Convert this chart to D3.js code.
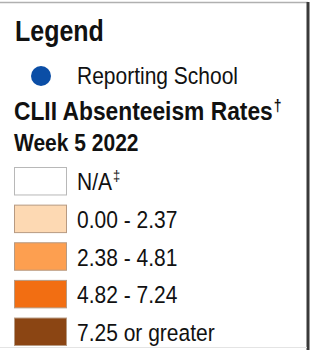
<!DOCTYPE html>
<html>
<head>
<meta charset="utf-8">
<script src="https://cdn.jsdelivr.net/npm/d3@7"></script>
<style>
  body { margin: 0; background: #fff; }
  text { font-family: "Liberation Sans", Arial, sans-serif; fill: #111; }
</style>
</head>
<body>
<div id="chart"></div>
<script>
// legend content
var title = "Legend";
var pointLabel = "Reporting School";
var rateTitle = "CLII Absenteeism Rates";
var weekLabel = "Week 5 2022";
var binLabels = ["N/A", "0.00 - 2.37", "2.38 - 4.81", "4.82 - 7.24", "7.25 or greater"];
var binMarks = ["\u2021", "", "", "", ""];
var binColors = ["#ffffff", "#fdd9b3", "#fd9f50", "#f26e12", "#8b4513"];

var w = 310, h = 350;
var stretch = 1.17; // the source text is a bit taller than plain Arial

var svg = d3.select("#chart")
    .append("svg")
    .attr("width", w)
    .attr("height", h);

// frame
svg.append("line")
    .attr("x1", 0).attr("x2", 308).attr("y1", 2.5).attr("y2", 2.5)
    .style("stroke", "#b0b0b0").style("stroke-width", 1.5);
svg.append("line")
    .attr("x1", 308).attr("x2", 308).attr("y1", 2).attr("y2", 350)
    .style("stroke", "#3a3a3a").style("stroke-width", 3);
svg.append("line")
    .attr("x1", 0).attr("x2", 307).attr("y1", 347.5).attr("y2", 347.5)
    .style("stroke", "#e4e4e4").style("stroke-width", 1);

function label(parent, x, y, size, bold, str) {
    return parent.append("text")
        .attr("transform", "translate(" + x + "," + y + ") scale(1," + stretch + ")")
        .style("font-size", size + "px")
        .style("font-weight", bold ? "bold" : "normal")
        .text(str);
}

label(svg, 15, 41, 25, true, title);

// reporting school marker
svg.append("circle")
    .attr("cx", 41).attr("cy", 76).attr("r", 10)
    .style("fill", "#0b4ea6");
label(svg, 77, 84, 21, false, pointLabel);

label(svg, 14, 120, 22.8, true, rateTitle)
    .append("tspan")
    .attr("dx", 1).attr("dy", -8).style("font-size", "14px")
    .text("\u2020");

label(svg, 14, 151, 21, true, weekLabel);

// legend rows
var y = d3.scaleBand()
    .domain(binLabels)
    .range([167, 167 + 35.6 * binLabels.length])
    .paddingInner(0.27)
    .paddingOuter(0)
    .align(0);

var rows = svg.selectAll("g.row")
    .data(binLabels)
    .enter()
    .append("g")
    .attr("class", "row")
    .attr("transform", (d) => "translate(0," + y(d) + ")");

rows.append("rect")
    .attr("x", 14.5).attr("y", 0.5)
    .attr("width", 52).attr("height", y.bandwidth())
    .style("fill", (d, i) => binColors[i])
    .style("stroke", (d, i) => i === 0 ? "#b8b8b8" : "#b79a82")
    .style("stroke-width", 1);

rows.each(function (d, i) {
    label(d3.select(this), 77, y.bandwidth() / 2 + 9.5, 21, false, d)
        .append("tspan")
        .attr("dx", 1).attr("dy", -8).style("font-size", "13px")
        .text(binMarks[i]);
});
</script>
</body>
</html>
